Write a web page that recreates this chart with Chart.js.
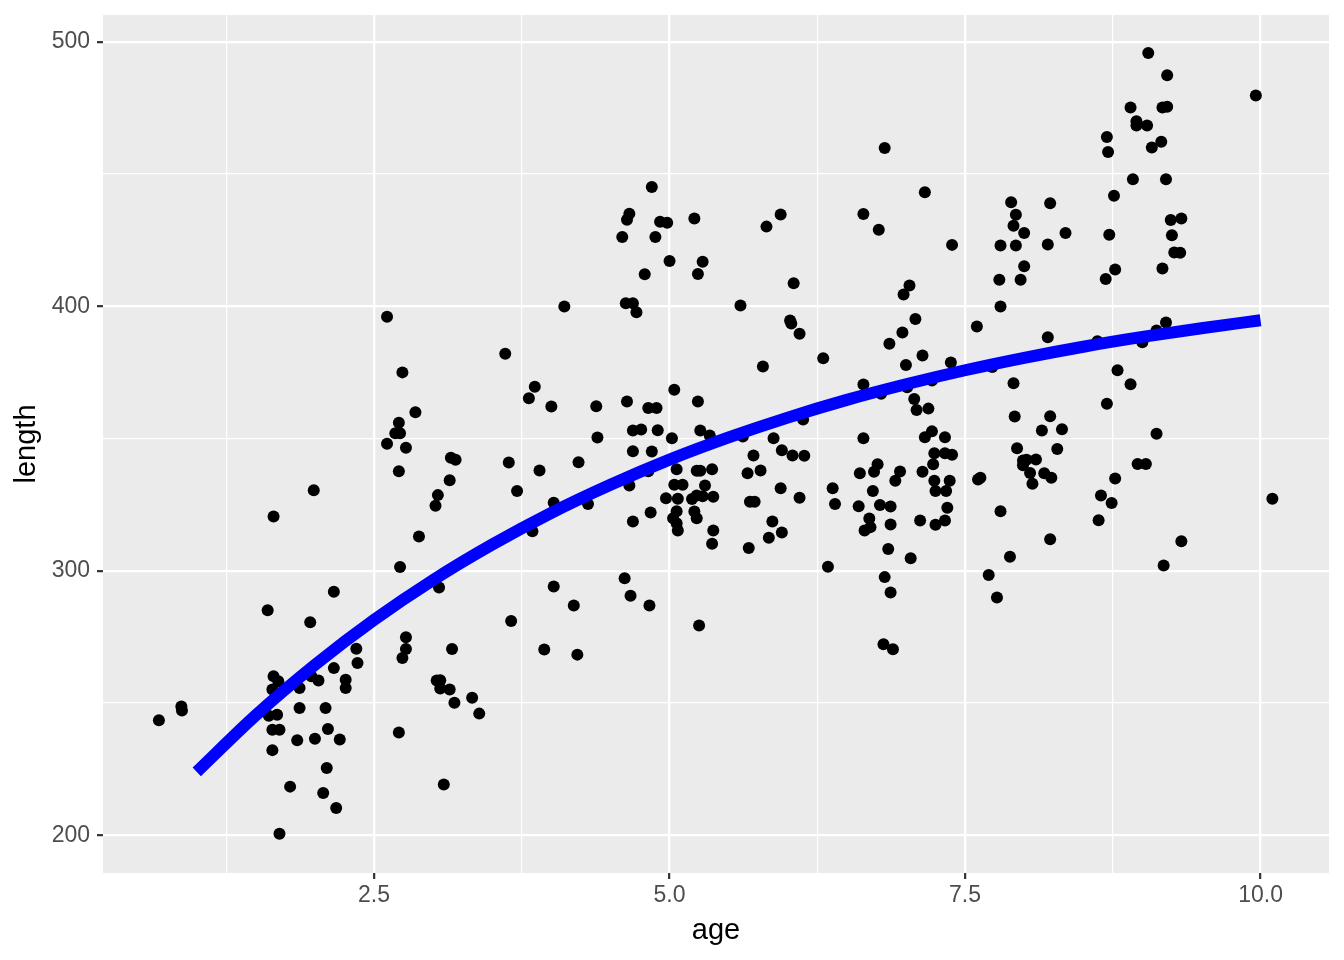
<!DOCTYPE html>
<html>
<head>
<meta charset="utf-8">
<script src="https://cdn.jsdelivr.net/npm/chart.js@4.4.1/dist/chart.umd.min.js"></script>
<style>
  html, body { margin: 0; padding: 0; background: #fff; }
</style>
</head>
<body>
<canvas id="chart" width="1344" height="960"></canvas>
<script>
// observed fish: age (years) and length
const ages = [
  2.61, 2.74, 2.71, 2.68, 2.72, 2.61, 2.77, 2.71, 1.99, 1.65, 2.72,
  2.16, 1.60, 1.96, 2.77, 2.77, 2.74, 2.35, 2.36, 2.16, 1.65, 1.69, 1.64, 1.87, 1.97, 2.03, 2.26, 2.26, 0.87, 0.875,
  0.68, 1.61, 1.68, 1.87, 2.09, 1.64, 1.70, 2.11, 2.00, 1.85, 2.21, 1.64, 2.71, 2.10, 1.79, 2.07, 2.18, 1.70,
  3.05, 4.02, 4.67, 4.83, 4.19, 3.66, 5.25, 3.16, 3.94, 4.22, 3.03, 3.06, 3.06, 3.14, 3.18, 3.33, 3.39, 3.09,
  6.87, 7.77, 6.81, 6.89,
  4.11, 4.63, 4.69, 4.72, 3.61, 2.85, 3.86, 3.81, 4.00, 4.38, 4.64, 4.82, 4.89, 5.04, 5.24, 4.69, 4.76, 4.90, 5.26, 5.34,
  4.39, 5.02, 3.15, 3.19, 3.64, 3.90, 4.23, 4.69, 4.85, 3.14, 3.04, 3.02, 3.71, 4.02, 4.31, 4.82, 4.66, 5.06, 5.23, 5.26,
  5.36, 5.04, 5.11, 5.30, 4.97, 5.07, 5.19, 5.23, 5.28, 5.37, 4.84, 5.06, 5.21, 5.23, 5.03, 5.06, 5.07, 4.69, 5.37, 5.36,
  3.84, 2.88, 4.62,
  4.85, 4.66, 4.64, 4.92, 4.98, 5.21, 4.60, 4.88, 5.00, 5.28, 4.79, 5.24,
  6.82, 5.94, 5.82, 7.16, 6.64, 6.77, 7.39, 7.89, 7.93, 7.91, 8.00, 7.80, 7.93, 8.00, 7.79, 7.97, 6.05, 7.03, 6.98, 5.60,
  9.05, 9.21, 9.96, 8.90, 9.17, 9.21, 8.95, 8.95, 9.04, 8.70, 8.71, 9.16, 9.08, 8.92, 9.20, 8.76, 8.22, 8.35, 8.20, 8.72,
  9.24, 9.33, 9.25, 9.27, 9.32, 9.17, 8.77, 8.69,
  6.02, 6.03, 6.10, 5.79, 6.30, 7.08, 6.97, 6.86, 7.14, 7.00, 7.38, 6.64, 6.79, 7.01, 7.22, 7.07, 7.09, 7.19, 7.60, 7.80,
  7.73, 7.91, 7.92, 7.94, 7.99, 7.99, 6.13, 5.62, 5.88, 6.64, 7.22, 7.16, 7.33, 5.95, 6.04, 6.14, 5.71, 7.24, 7.33, 7.39,
  6.76, 6.73, 6.61, 6.95, 6.91, 7.23, 7.14, 7.24, 7.37, 7.25, 7.34, 5.66, 5.77, 7.63, 7.61, 6.38, 6.40, 6.72, 5.94, 6.10,
  5.68, 5.72, 6.60, 6.78, 6.87, 7.35, 5.87, 5.95, 5.84, 6.69, 6.70, 6.65, 6.87, 7.12, 7.25, 7.33, 5.67, 6.85, 7.04, 6.34,
  6.82, 7.80, 7.88, 7.70,
  9.20, 9.12, 9.00, 8.20, 8.62, 8.79, 8.90, 8.70, 8.22, 8.15, 8.32, 8.28, 9.12, 8.02, 8.10, 8.05, 8.07, 8.17, 8.23, 8.96,
  9.03, 8.77, 8.65, 8.74, 8.63, 8.22, 9.33, 9.18, 10.10
];
const lengths = [
  396, 375, 356, 352, 352, 348, 346.5, 337.6, 330.4, 320.5, 301.4,
  292.1, 285.1, 280.5, 274.9, 270.4, 267, 270.5, 265.1, 263.2, 260.1, 258.2, 255.1, 255.7, 260.1, 258.5, 258.8, 255.7, 248.7, 247.2,
  243.5, 245.2, 245.6, 248.1, 248.1, 239.9, 239.9, 240.2, 236.5, 235.9, 236.2, 232.2, 238.9, 225.4, 218.4, 216, 210.3, 200.6,
  293.7, 294.1, 290.6, 286.9, 286.9, 281, 279.3, 270.4, 270.2, 268.3, 258.5, 258.6, 255.5, 255.1, 250.1, 252, 246, 219.2,
  291.8, 289.9, 272.2, 270.3,
  399.9, 401.1, 401.1, 397.7, 382, 359.9, 369.6, 365.2, 362.1, 362.2, 364, 361.5, 361.5, 368.4, 364, 353, 353.4, 353.1, 353, 351.1,
  350.4, 350.1, 342.7, 342, 340.9, 337.9, 341, 345.2, 345.1, 334.2, 328.6, 324.6, 330.2, 325.7, 325.2, 337.6, 332.2, 338.4, 337.8, 337.8,
  338.4, 332.5, 332.5, 332.2, 327.4, 327.2, 327.1, 328.5, 328.2, 328, 322, 322.5, 322.4, 319.9, 319.9, 318, 315.2, 318.6, 315.2, 310.2,
  314.9, 313, 297.2,
  445.1, 435, 432.7, 431.9, 431.6, 433.2, 426.2, 426.2, 417.1, 416.8, 412.1, 412.2,
  459.8, 434.7, 430.1, 443.1, 434.9, 428.9, 423.2, 439.3, 434.6, 430.4, 427.7, 423, 423, 415.1, 410, 410, 408.7, 407.8, 404.4, 400.3,
  495.7, 487.3, 479.7, 475.1, 475.1, 475.4, 469.9, 468.3, 468.3, 464, 458.3, 462.2, 460, 448, 448, 441.8, 438.9, 427.7, 423.3, 427,
  432.6, 433.2, 426.8, 420.3, 420.2, 414.3, 413.9, 410.3,
  394.6, 393.5, 389.6, 377.2, 380.3, 395.2, 390.1, 385.8, 381.4, 377.8, 378.7, 370.4, 366.9, 369.4, 371.9, 364.9, 360.8, 361.3, 392.3, 399.9,
  377, 370.9, 358.3, 346.3, 341.7, 339.9, 357.2, 350.8, 350.1, 350.1, 352.7, 350.5, 350.5, 345.6, 343.6, 343.5, 343.6, 344.4, 344.4, 343.9,
  340.3, 337.4, 336.9, 337.5, 334, 340.3, 337.4, 334, 334, 330.2, 330.2, 336.9, 337.9, 335.2, 334.5, 331.2, 325.2, 330.2, 331.2, 327.6,
  326.1, 326.1, 324.4, 324.9, 324.3, 323.8, 318.6, 314.5, 312.5, 319.8, 316.5, 315.2, 317.5, 319, 317.4, 319, 308.6, 308.2, 304.7, 301.5,
  297.6, 322.5, 305.3, 298.4,
  393.9, 390.8, 386.4, 388.3, 386.8, 375.8, 370.5, 363.1, 358.4, 353, 353.5, 346, 351.8, 342, 342.1, 337, 332.9, 336.9, 335.2, 340.4,
  340.4, 334.9, 328.5, 325.6, 319.1, 311.9, 311.2, 302, 327.2
];

// fitted growth curve
const fitAge = [1.0, 1.5, 2.0, 2.5, 3.0, 3.5, 4.0, 4.5, 5.0, 5.5, 6.0, 6.5, 7.0, 7.5, 8.0, 8.5, 9.0, 9.5, 10.0];
const fitLength = [224, 245.4, 264.4, 281.4, 296.5, 309.9, 321.9, 332.5, 342, 350.4, 357.9, 364.6, 370.5, 375.8, 380.5, 384.7, 388.4, 391.7, 394.7];

const xMajor = [2.5, 5.0, 7.5, 10.0];
const xMinor = [1.25, 3.75, 6.25, 8.75];
const yMajor = [200, 300, 400, 500];
const yMinor = [250, 350, 450];

const panelBg = {
  id: 'panelBg',
  beforeDraw(chart) {
    const { ctx, chartArea: a } = chart;
    ctx.save();
    ctx.fillStyle = '#ffffff';
    ctx.fillRect(0, 0, chart.width, chart.height);
    ctx.fillStyle = '#ebebeb';
    ctx.fillRect(a.left, a.top, a.right - a.left, a.bottom - a.top);
    ctx.restore();
  }
};

function gridFor(major) {
  return {
    color: '#ffffff',
    lineWidth: (c) => major.includes(c.tick.value) ? 2.3 : 1.2,
    tickColor: (c) => major.includes(c.tick.value) ? '#333333' : 'rgba(0,0,0,0)',
    tickWidth: 2.2,
    tickLength: 6,
    drawTicks: true
  };
}

const tickFont = { family: '"Liberation Sans", Arial, sans-serif', size: 23 };
const titleFont = { family: '"Liberation Sans", Arial, sans-serif', size: 29 };

new Chart(document.getElementById('chart'), {
  data: {
    datasets: [
      {
        type: 'line',
        data: fitAge.map((a, i) => ({ x: a, y: fitLength[i] })),
        borderColor: '#0000ff',
        borderWidth: 12,
        borderCapStyle: 'butt',
        pointRadius: 0,
        fill: false,
        cubicInterpolationMode: 'monotone'
      },
      {
        type: 'scatter',
        data: ages.map((a, i) => ({ x: a, y: lengths[i] })),
        backgroundColor: '#000000',
        borderWidth: 0,
        pointRadius: 6
      }
    ]
  },
  options: {
    responsive: false,
    animation: false,
    devicePixelRatio: 1,
    layout: { padding: { left: 0, right: 15, top: 15, bottom: 0 } },
    plugins: { legend: { display: false }, tooltip: { enabled: false } },
    scales: {
      x: {
        type: 'linear',
        min: 0.207,
        max: 10.579,
        afterBuildTicks: (s) => { s.ticks = xMinor.concat(xMajor).sort((a, b) => a - b).map((v) => ({ value: v })); },
        afterFit: (s) => { s.height = 87; s.paddingLeft = 0; s.paddingRight = 0; },
        border: { display: false },
        grid: gridFor(xMajor),
        ticks: {
          autoSkip: false,
          maxRotation: 0,
          padding: 3,
          color: '#4d4d4d',
          font: tickFont,
          callback: (v) => xMajor.includes(v) ? v.toFixed(1) : ''
        },
        title: { display: true, text: 'age', color: '#000000', font: titleFont, padding: { top: 0, bottom: 12 } }
      },
      y: {
        type: 'linear',
        min: 185.75,
        max: 510.1,
        afterBuildTicks: (s) => { s.ticks = yMinor.concat(yMajor).sort((a, b) => a - b).map((v) => ({ value: v })); },
        afterFit: (s) => { s.width = 103; s.paddingTop = 0; s.paddingBottom = 0; },
        border: { display: false },
        grid: gridFor(yMajor),
        ticks: {
          autoSkip: false,
          padding: 7,
          color: '#4d4d4d',
          font: tickFont,
          callback: (v) => yMajor.includes(v) ? String(v) : ''
        },
        title: { display: true, text: 'length', color: '#000000', font: titleFont, padding: { top: 10, bottom: 0 } }
      }
    }
  },
  plugins: [panelBg]
});
</script>
</body>
</html>
